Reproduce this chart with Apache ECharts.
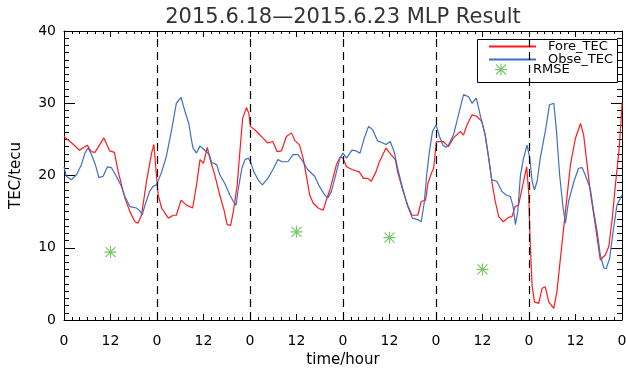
<!DOCTYPE html>
<html>
<head>
<meta charset="utf-8">
<title>MLP Result</title>
<script src="https://cdn.jsdelivr.net/npm/echarts@6.0.0/dist/echarts.min.js"></script>
<style>
  html, body { margin: 0; padding: 0; background: #fff; }
  #chart { width: 626px; height: 371px; }
</style>
</head>
<body>
<div id="chart"></div>
<script>
// 预测 TEC  [hour, tecu]
var foreTec = [
  [0, 25.4], [2, 24.5], [4, 23.5], [6, 24.2], [7, 23.3], [8, 23.2], [10.3, 25.2], [11.8, 23.4],
  [13, 23.2], [14, 20.5], [15.7, 16.9], [17, 15], [18.3, 13.6], [19.1, 13.4], [20, 14.5], [21.3, 19.2],
  [22.6, 23.1], [23.2, 24.3], [23.7, 21], [24.3, 17.3], [25.2, 15.5], [26.9, 14.1], [28.2, 14.5], [29, 14.5],
  [30.2, 16.6], [31.6, 15.9], [33.2, 15.5], [34.2, 18.7], [35.1, 22.2], [36, 21.7], [37, 23.9], [37.6, 22.4],
  [38.9, 20.1], [40.2, 17.3], [41.3, 15.2], [42.1, 13.2], [43, 13.1], [43.7, 15], [44.7, 18.7], [45.6, 24.7],
  [46.1, 27.9], [47.1, 29.4], [47.7, 28.6], [48.1, 26.8], [49.3, 26.3], [50.6, 25.6], [51.3, 25.2], [52.6, 24.5],
  [53.9, 24.7], [55, 23.3], [56.1, 23.4], [57.4, 25.4], [58.7, 25.9], [59.5, 24.9], [60.8, 24.2], [61.7, 22.4],
  [62.5, 20.1], [63.4, 17.3], [64.3, 16.2], [65.6, 15.5], [66.9, 15.2], [67.7, 16.6], [68.6, 18], [69.4, 19.6],
  [70.3, 21.5], [71.3, 22.6], [72, 22.4], [72.9, 21.2], [74.5, 20.8], [76.2, 20.5], [77.3, 19.6], [78.4, 19.6],
  [79.3, 19.2], [80.5, 20.5], [81.4, 21.9], [83.1, 23.8], [84.4, 22.9], [85.5, 22.2], [86.1, 20.5], [87.4, 18],
  [88.7, 15.9], [89.8, 14.5], [91.3, 14.5], [92.2, 16.4], [93.3, 16.6], [93.9, 18.9], [94.8, 20.3], [95.4, 21],
  [96.1, 24.7], [96.9, 24.7], [97.9, 24.7], [99.2, 24], [100.5, 25.2], [102.3, 26.1], [103.1, 25.6], [104, 27],
  [105.3, 28.4], [106.5, 28.2], [107.8, 27.5], [108.7, 25.6], [109.6, 22.4], [110.4, 19.2], [111.3, 16.4], [112.2, 14.3],
  [113.4, 13.6], [114.7, 14.2], [115.6, 14.3], [116.4, 15.7], [117.3, 15.9], [118.2, 18.2], [119.4, 21.2], [119.9, 17.8],
  [120.3, 10.8], [120.8, 4.8], [121.4, 2.5], [122.5, 2.3], [123.4, 4.4], [124.2, 4.6], [125.1, 2.5], [126.4, 1.6],
  [127.2, 3.9], [128.1, 8.5], [129.4, 15], [130.7, 21.5], [132, 25.2], [133.3, 27.2], [134.1, 25.6], [135, 21.5],
  [135.8, 17.8], [137.1, 13.2], [138.4, 8.3], [139.7, 9], [140.6, 10.2], [141.5, 14.1], [142.3, 18.7], [143.2, 23.3],
  [143.8, 27.9], [144, 30]
];

// 观测 TEC  [hour, tecu]
var obseTec = [
  [0, 21.2], [0.6, 19.9], [1.9, 19.4], [3.2, 20.1], [4.5, 21.5], [5.4, 23.1], [6.2, 23.8], [7.1, 22.9],
  [8.1, 21.5], [9, 19.7], [10.1, 19.9], [11.2, 21.2], [12.2, 21.1], [13.5, 19.9], [14.8, 18.5], [15.7, 17.1],
  [17, 15.7], [18.7, 15.5], [19.6, 15.1], [20.2, 14.6], [20.9, 15.9], [22.1, 17.8], [23, 18.5], [23.9, 18.7],
  [25.2, 20.5], [26.4, 22.6], [27.7, 26.1], [29, 30], [30.2, 30.8], [31.2, 28.9], [32.2, 27.2], [32.9, 24.9],
  [33.3, 23.8], [34.2, 23.1], [35.1, 24.1], [36.3, 23.5], [37.5, 22.9], [38.1, 21.8], [39.4, 21.5], [40.2, 20.1],
  [41.5, 18.9], [42.8, 17.3], [43.7, 16.4], [44.4, 15.9], [45, 18.2], [45.9, 21], [46.7, 22.2], [47.6, 22.4],
  [48.2, 21.8], [49, 20.5], [50.1, 19.4], [51.2, 18.7], [52.6, 19.6], [54.1, 21], [55.2, 22.2], [56.3, 21.9],
  [57.8, 21.9], [59.1, 22.9], [60.4, 22.9], [61.7, 21.9], [62.9, 20.8], [64.7, 19.9], [65.9, 18.5], [67.3, 17.3],
  [68.1, 16.9], [69, 17.8], [69.9, 19.6], [71.2, 22.4], [72, 23.1], [72.9, 22.4], [74.3, 23.5], [75.4, 23.4],
  [76.4, 23.1], [77.5, 25.2], [78.6, 26.8], [79.7, 26.3], [80.9, 24.8], [82.3, 24.5], [83.1, 24.3], [84.2, 24.7],
  [85.3, 23.1], [86.1, 21], [87.4, 18.2], [88.7, 15.7], [89.9, 14.1], [91.3, 13.9], [92.2, 13.6], [93, 16.4],
  [93.6, 20.1], [94.3, 23.3], [95.1, 26.1], [96, 27], [96.9, 25.4], [97.8, 24.2], [98.6, 23.9], [99.2, 24.2],
  [100.5, 25.6], [101.8, 28.4], [103.1, 31.2], [104.4, 30.9], [105.3, 30], [106.4, 30.7], [107.4, 28.4], [108.7, 25.6],
  [109.6, 22.4], [110.4, 19.4], [111.7, 19.2], [113, 17.8], [114.1, 17.3], [115.2, 17.1], [115.9, 15.7], [116.5, 13.2],
  [117.1, 15], [117.8, 20.1], [118.6, 22.4], [119.5, 24.2], [120.2, 22.4], [120.8, 19.2], [121.4, 18], [122.1, 19.2],
  [122.9, 22.4], [124.2, 26.1], [125.3, 29.8], [126.4, 30], [127.1, 26.1], [127.9, 20.1], [128.8, 15.5], [129.4, 13.4],
  [130.2, 16.4], [131.6, 19.2], [132.8, 21], [133.7, 21.1], [134.5, 20.1], [135.8, 18.2], [136.7, 15], [137.6, 12.2],
  [138.4, 9], [139.3, 7.2], [139.9, 7.1], [140.8, 8.5], [141.7, 12.2], [142.7, 15.9], [143.6, 16.9], [144, 17.3]
];

// 每日 RMSE
var rmseHours = [12, 60, 84, 108];
var rmseValues = [9.4, 12.2, 11.4, 7.0];

// 日分界线
var dayBounds = [24, 48, 72, 96, 120];

var FONT = 'DejaVu Sans';
// 星号 (IDL psym=2)
var STAR = 'path://M0,4.5L10,4.5L10,5.5L0,5.5Z M4.5,0L5.5,0L5.5,10L4.5,10Z M1.2,0.5L9.5,8.8L8.8,9.5L0.5,1.2Z M8.8,0.5L9.5,1.2L1.2,9.5L0.5,8.8Z';

var chart = echarts.init(document.getElementById('chart'));

// 刻度朝内, onZero 关掉否则方向会反
var xTick = { show: true, inside: true, length: 6, lineStyle: { color: '#000', width: 1 } };
var xMinor = { show: true, splitNumber: 6, length: 3, lineStyle: { color: '#000', width: 1 } };
var yTick = { show: true, inside: true, length: 11, lineStyle: { color: '#000', width: 1 } };
var yMinor = { show: true, splitNumber: 10, length: 5, lineStyle: { color: '#000', width: 1 } };
var boxLine = { show: true, onZero: false, lineStyle: { color: '#000', width: 1 } };

chart.setOption({
  animation: false,
  title: {
    text: '2015.6.18—2015.6.23 MLP Result',
    left: 338,
    textAlign: 'center',
    top: 2,
    textStyle: {
      fontFamily: FONT,
      fontSize: 21,
      fontWeight: 'normal',
      color: '#333'
    }
  },
  grid: {
    left: 64,
    right: 4,
    top: 31,
    bottom: 51,
    containLabel: false,
    outerBoundsMode: 'none'
  },
  legend: [{
    orient: 'vertical',
    left: 488,
    top: 40,
    padding: 0,
    itemWidth: 47,
    itemHeight: 10,
    itemGap: 0,
    itemStyle: { opacity: 0 },
    data: ['Fore_TEC', 'Obse_TEC'],
    textStyle: {
      fontFamily: FONT,
      fontSize: 13,
      lineHeight: 11,
      color: '#000',
      padding: [0, 0, 0, 7]
    }
  }, {
    orient: 'vertical',
    left: 495,
    top: 63,
    padding: 0,
    itemWidth: 14,
    itemHeight: 12,
    data: ['RMSE'],
    textStyle: {
      fontFamily: FONT,
      fontSize: 13,
      color: '#000',
      padding: [0, 0, 0, 20]
    }
  }],
  // 图例框
  graphic: [{
    type: 'rect',
    left: 475,
    top: 37,
    shape: { width: 140, height: 43 },
    style: { fill: 'none', stroke: '#000', lineWidth: 1 },
    silent: true
  }],
  xAxis: [{
    type: 'value',
    position: 'bottom',
    min: 0,
    max: 144,
    interval: 12,
    name: 'time/hour',
    nameLocation: 'middle',
    nameGap: 33,
    nameTextStyle: { fontFamily: FONT, fontSize: 15, color: '#000' },
    axisLine: boxLine,
    axisTick: xTick,
    minorTick: xMinor,
    axisLabel: {
      margin: 14,
      fontFamily: FONT,
      fontSize: 14,
      color: '#000',
      showMaxLabel: true,
      formatter: function (v) {
        return v % 24 === 0 ? '0' : '12';
      }
    },
    splitLine: { show: false }
  }, {
    type: 'value',
    position: 'top',
    min: 0,
    max: 144,
    interval: 12,
    axisLine: boxLine,
    axisTick: xTick,
    minorTick: xMinor,
    axisLabel: { show: false },
    splitLine: { show: false }
  }],
  yAxis: [{
    type: 'value',
    position: 'left',
    min: 0,
    max: 40,
    interval: 10,
    name: 'TEC/tecu',
    nameLocation: 'middle',
    nameGap: 40,
    nameTextStyle: { fontFamily: FONT, fontSize: 15, color: '#000' },
    axisLine: boxLine,
    axisTick: yTick,
    minorTick: yMinor,
    axisLabel: { margin: 8, fontFamily: FONT, fontSize: 14, color: '#000' },
    splitLine: { show: false }
  }, {
    type: 'value',
    position: 'right',
    min: 0,
    max: 40,
    interval: 10,
    axisLine: boxLine,
    axisTick: yTick,
    minorTick: yMinor,
    axisLabel: { show: false },
    splitLine: { show: false }
  }],
  series: [{
    name: 'Fore_TEC',
    type: 'line',
    symbol: 'none',
    data: foreTec,
    color: '#ff1a1a',
    lineStyle: { color: '#ff1a1a', width: 1.2 },
    // 每日分界虚线
    markLine: {
      silent: true,
      symbol: 'none',
      label: { show: false },
      lineStyle: { color: '#000', type: [8, 5], width: 1.2 },
      data: dayBounds.map(function (d) {
        return { xAxis: d };
      })
    }
  }, {
    name: 'Obse_TEC',
    type: 'line',
    symbol: 'none',
    data: obseTec,
    color: '#3d6fc4',
    lineStyle: { color: '#3d6fc4', width: 1.2 }
  }, {
    name: 'RMSE',
    type: 'scatter',
    symbol: STAR,
    symbolSize: 12,
    color: '#5ab845',
    data: rmseHours.map(function (h, i) {
      return [h, rmseValues[i]];
    })
  }]
});
</script>
</body>
</html>
